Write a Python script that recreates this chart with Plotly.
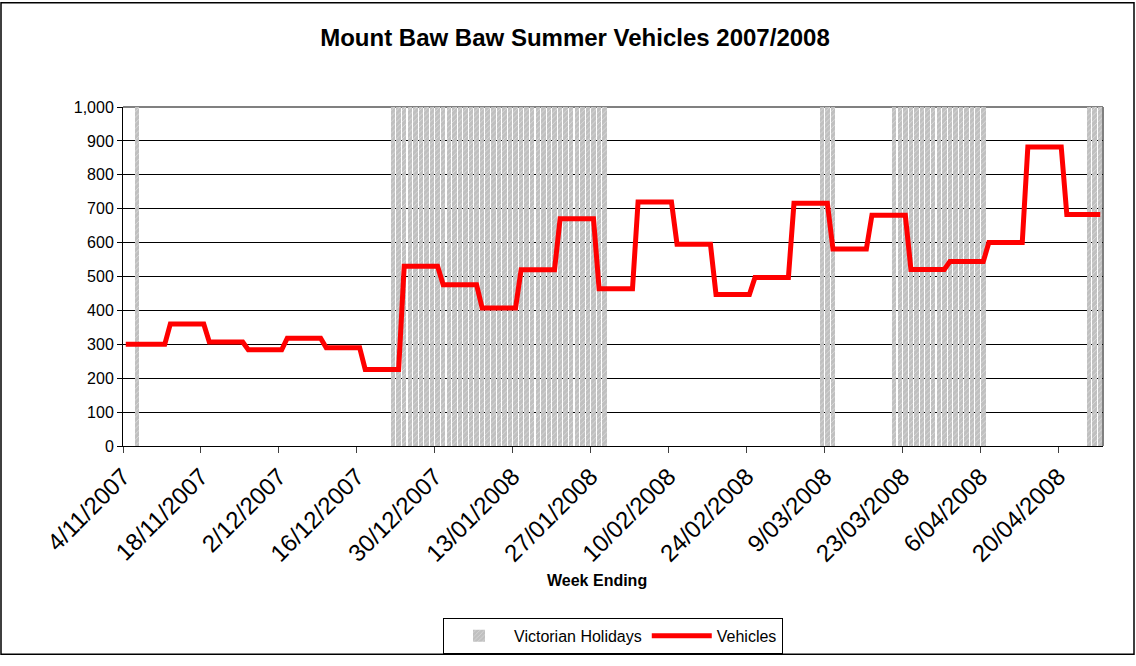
import pandas as pd
import plotly.graph_objects as go

# ---- data ----
week_ending = pd.date_range("2007-11-04", "2008-04-27", freq="7D")
vehicles = [300, 300, 360, 307, 284, 318, 290, 226, 530, 476, 407, 520, 670,
            464, 720, 595, 447, 497, 716, 581, 681, 521, 544, 600, 882, 683]

holiday_periods = [("2007-11-06", "2007-11-06"),
                   ("2007-12-22", "2008-01-29"),
                   ("2008-03-08", "2008-03-10"),
                   ("2008-03-21", "2008-04-06"),
                   ("2008-04-25", "2008-04-27")]
holiday_height = 1000

tick_dates = pd.date_range("2007-11-04", "2008-04-20", freq="14D")

# ---- expand to daily series (each day carries its week's value) ----
days = pd.date_range("2007-11-04", "2008-04-27", freq="D")
week_value = dict(zip(week_ending, vehicles))
daily_vals = []
for d in days:
    off = (d - week_ending[0]).days
    we = week_ending[0] + pd.Timedelta(days=-(-off // 7) * 7)
    daily_vals.append(week_value[we])
half = pd.Timedelta(hours=12)
daily_x = [d + half for d in days]

hol_days = []
for s, e in holiday_periods:
    hol_days.extend(pd.date_range(s, e, freq="D"))
hol_x = [d + half for d in hol_days]

FONT = "Liberation Sans, Arial, sans-serif"

fig = go.Figure()
fig.add_trace(go.Bar(
    x=hol_x, y=[holiday_height] * len(hol_x), name="Victorian Holidays",
    width=86400000 * 0.8,
    marker=dict(color="#C0C0C0", line=dict(width=0),
                pattern=dict(shape="/", fgcolor="#FFFFFF", size=4, solidity=0.2)),
))
fig.add_trace(go.Scatter(
    x=daily_x, y=daily_vals, mode="lines", name="Vehicles",
    line=dict(color="#FF0000", width=5),
))

fig.update_layout(
    width=1136, height=666,
    margin=dict(l=123, r=33, t=107, b=214),
    paper_bgcolor="white", plot_bgcolor="white",
    font=dict(family=FONT, color="black"),
    bargap=0,
    showlegend=True,
    title=dict(text="<b>Mount Baw Baw Summer Vehicles 2007/2008</b>",
               x=575 / 1136, xanchor="center", y=1 - 38 / 666, yanchor="middle",
               font=dict(size=24, family=FONT)),
    legend=dict(orientation="h", x=0.5, xanchor="center", y=-0.507, yanchor="top",
                bordercolor="black", borderwidth=1, font=dict(size=16, family=FONT),
                bgcolor="white", itemwidth=60),
    xaxis=dict(type="date", range=["2007-11-04", "2008-04-28"],
               tickvals=list(tick_dates), tickformat="%-d/%m/%Y", tickangle=-45,
               tickfont=dict(size=24, family=FONT), ticks="outside", ticklen=6,
               tickcolor="#404040", showline=True, linecolor="black", linewidth=1,
               showgrid=False, zeroline=False),
    yaxis=dict(range=[0, 1000], dtick=100, tickformat=",", tickfont=dict(size=16, family=FONT),
               ticks="outside", ticklen=5, tickcolor="black", showline=True,
               linecolor="black", linewidth=1, showgrid=True, gridcolor="#000000",
               gridwidth=1, zeroline=False),
    annotations=[dict(text="<b>Week Ending</b>", xref="paper", yref="paper",
                      x=(597 - 123) / 980, y=(452 - 589) / 345, xanchor="center",
                      yanchor="middle", showarrow=False, font=dict(size=16, family=FONT))],
    shapes=[
        dict(type="line", xref="paper", yref="paper", x0=0, x1=1, y0=1, y1=1,
             line=dict(color="#808080", width=2), layer="between"),
        dict(type="line", xref="paper", yref="paper", x0=1, x1=1, y0=0, y1=1,
             line=dict(color="#808080", width=2), layer="between"),
        dict(type="rect", xref="paper", yref="paper",
             x0=(1 - 123) / 980, x1=(1134 - 123) / 980,
             y0=(452 - 664) / 345, y1=(452 - 1) / 345,
             line=dict(color="black", width=1.5), fillcolor="rgba(0,0,0,0)"),
    ],
)

fig.write_html(
    "out.html",
    config={"displayModeBar": False},
    post_script="document.body.style.margin='0';document.body.style.overflow='hidden';"
                "document.documentElement.style.overflow='hidden';",
)
